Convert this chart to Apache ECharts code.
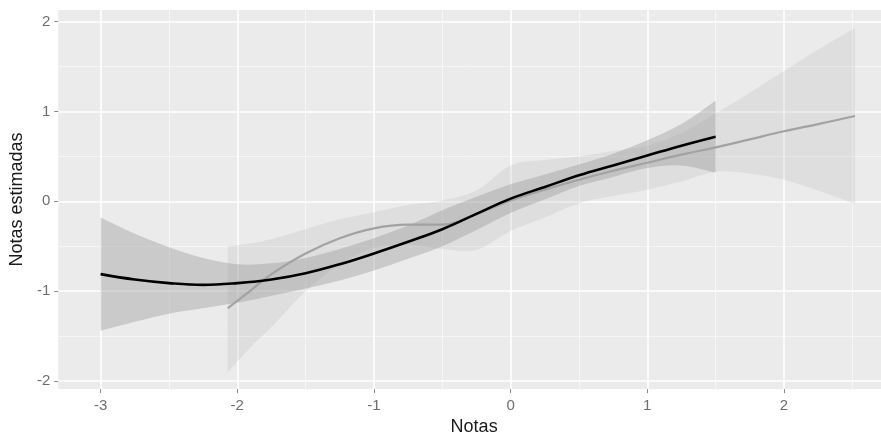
<!DOCTYPE html>
<html>
<head>
<meta charset="utf-8">
<script src="https://cdn.jsdelivr.net/npm/echarts@6/dist/echarts.min.js"></script>
<style>
  html, body { margin: 0; padding: 0; background: #ffffff; }
  #chart { width: 881px; height: 441px; }
</style>
</head>
<body>
<div id="chart"></div>
<script>
// axis ticks (major and minor gridlines)
const xTicks = [-3, -2, -1, 0, 1, 2]
const xMinor = [-2.5, -1.5, -0.5, 0.5, 1.5, 2.5]
const yTicks = [-2, -1, 0, 1, 2]
const yMinor = [-1.5, -0.5, 0.5, 1.5]

// black smooth + its confidence band
const blackX = [-3, -2.75, -2.5, -2.25, -2, -1.75, -1.5, -1.25, -1, -0.75, -0.5, -0.25, 0, 0.25, 0.5, 0.75, 1, 1.25, 1.5]
const blackY = [-0.81, -0.87, -0.91, -0.93, -0.91, -0.87, -0.80, -0.70, -0.58, -0.45, -0.31, -0.14, 0.03, 0.16, 0.29, 0.40, 0.51, 0.62, 0.72]
const blackHi = [-0.18, -0.36, -0.51, -0.63, -0.70, -0.69, -0.63, -0.53, -0.41, -0.27, -0.10, 0.05, 0.19, 0.30, 0.41, 0.53, 0.68, 0.86, 1.12]
const blackLo = [-1.44, -1.34, -1.25, -1.19, -1.13, -1.05, -0.97, -0.88, -0.77, -0.64, -0.50, -0.32, -0.13, 0.02, 0.17, 0.27, 0.37, 0.40, 0.32]

// grey smooth + its confidence band
const greyX = [-2.07, -1.9, -1.75, -1.5, -1.25, -1, -0.75, -0.5, -0.25, 0, 0.25, 0.5, 0.75, 1, 1.25, 1.5, 1.75, 2, 2.25, 2.52]
const greyY = [-1.19, -0.99, -0.81, -0.58, -0.41, -0.30, -0.26, -0.26, -0.14, 0.01, 0.13, 0.24, 0.34, 0.43, 0.52, 0.60, 0.69, 0.78, 0.86, 0.95]
const greyHi = [-0.50, -0.47, -0.42, -0.31, -0.20, -0.12, -0.04, 0.01, 0.12, 0.40, 0.46, 0.50, 0.56, 0.62, 0.76, 0.98, 1.21, 1.45, 1.69, 1.93]
const greyLo = [-1.90, -1.62, -1.40, -1.00, -0.70, -0.52, -0.48, -0.53, -0.54, -0.33, -0.18, -0.02, 0.06, 0.13, 0.22, 0.33, 0.31, 0.24, 0.12, -0.03]

const font = "'Liberation Sans', Arial, sans-serif"

// catmull-rom through pixel points, as bezier commands
function curve(pts) {
  let d = ""
  for (let i = 0; i < pts.length - 1; i++) {
    const p0 = pts[Math.max(i - 1, 0)], p1 = pts[i], p2 = pts[i + 1], p3 = pts[Math.min(i + 2, pts.length - 1)]
    const c1 = [p1[0] + (p2[0] - p0[0]) / 6, p1[1] + (p2[1] - p0[1]) / 6]
    const c2 = [p2[0] - (p3[0] - p1[0]) / 6, p2[1] - (p3[1] - p1[1]) / 6]
    d += ` C${c1[0]} ${c1[1]} ${c2[0]} ${c2[1]} ${p2[0]} ${p2[1]}`
  }
  return d
}

function band(xs, lo, hi, fill) {
  return {
    type: "custom",
    silent: true,
    animation: false,
    data: xs.map((x, i) => [x, lo[i], hi[i]]),
    encode: { x: 0, y: [1, 2] },
    renderItem(params, api) {
      if (params.dataIndex !== 0) return null
      const top = xs.map((x, i) => api.coord([x, hi[i]]))
      const bot = xs.map((x, i) => api.coord([x, lo[i]])).reverse()
      const d = `M${top[0][0]} ${top[0][1]}` + curve(top) +
        ` L${bot[0][0]} ${bot[0][1]}` + curve(bot) + " Z"
      return { type: "path", shape: { pathData: d }, style: { fill } }
    }
  }
}

function smooth(xs, ys, color, width) {
  return {
    type: "line",
    data: xs.map((x, i) => [x, ys[i]]),
    smooth: 0.4,
    showSymbol: false,
    silent: true,
    animation: false,
    lineStyle: { color, width }
  }
}

const chart = echarts.init(document.getElementById("chart"))
chart.setOption({
  backgroundColor: "#ffffff",
  grid: {
    left: 56, top: 10, right: 0, bottom: 49,
    show: true, backgroundColor: "#ebebeb", borderWidth: 0
  },
  xAxis: [
    {
      type: "value", min: -3.31, max: 2.71,
      name: "Notas", nameLocation: "middle", nameGap: 27,
      nameTextStyle: { color: "#1a1a1a", fontSize: 18, fontFamily: font, padding: [0, 0, 0, 9] },
      axisLine: { show: false, onZero: false },
      axisTick: { show: true, length: 4, customValues: xTicks, lineStyle: { color: "#8a8a8a", width: 1 } },
      axisLabel: { customValues: xTicks, color: "#6e6e6e", fontSize: 15, fontFamily: font, margin: 9 },
      splitLine: { show: true, lineStyle: { color: "#ffffff", width: 1.6 } }
    },
    {
      type: "value", min: -3.31, max: 2.71, position: "bottom",
      axisLine: { show: false, onZero: false },
      axisTick: { show: false, customValues: xMinor },
      axisLabel: { show: false, customValues: xMinor },
      splitLine: { show: true, lineStyle: { color: "#f7f7f7", width: 0.9 } }
    }
  ],
  yAxis: [
    {
      type: "value", min: -2.09, max: 2.13,
      name: "Notas estimadas", nameLocation: "middle", nameGap: 24,
      nameTextStyle: { color: "#1a1a1a", fontSize: 18, fontFamily: font },
      axisLine: { show: false, onZero: false },
      axisTick: { show: true, length: 4, customValues: yTicks, lineStyle: { color: "#8a8a8a", width: 1 } },
      axisLabel: { customValues: yTicks, color: "#6e6e6e", fontSize: 15, fontFamily: font, margin: 8 },
      splitLine: { show: true, lineStyle: { color: "#ffffff", width: 1.6 } }
    },
    {
      type: "value", min: -2.09, max: 2.13, position: "left",
      axisLine: { show: false, onZero: false },
      axisTick: { show: false, customValues: yMinor },
      axisLabel: { show: false, customValues: yMinor },
      splitLine: { show: true, lineStyle: { color: "#f7f7f7", width: 0.9 } }
    }
  ],
  series: [
    band(greyX, greyLo, greyHi, "rgba(153,153,153,0.16)"),
    band(blackX, blackLo, blackHi, "rgba(153,153,153,0.40)"),
    smooth(greyX, greyY, "#a2a2a2", 2.2),
    smooth(blackX, blackY, "#000000", 2.6)
  ]
})
</script>
</body>
</html>
